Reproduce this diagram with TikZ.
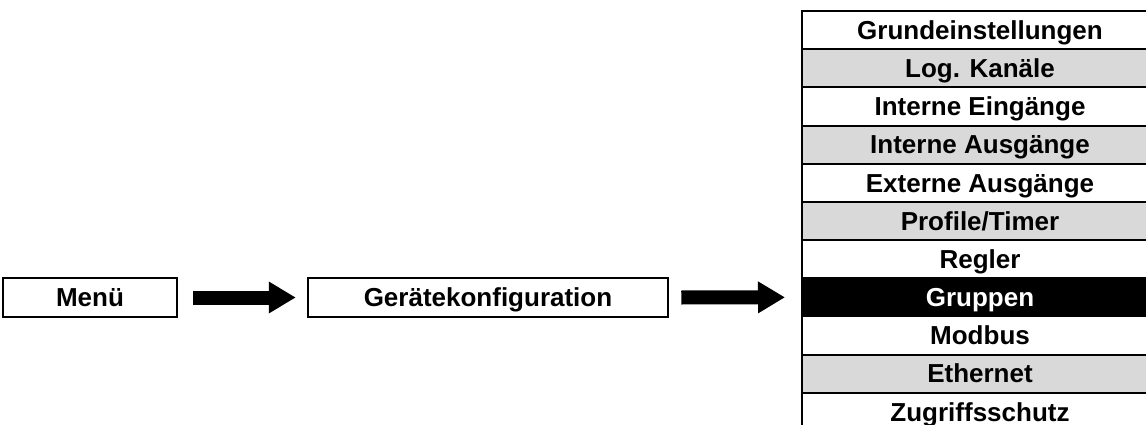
\documentclass[tikz,border=0pt]{standalone}
\usepackage{fontspec}
\setmainfont{Liberation Sans}
\usetikzlibrary{arrows.meta}
\definecolor{rowgray}{RGB}{217,217,217}
\tikzset{
  box/.style={draw, line width=2.5pt, minimum height=39pt, inner sep=0pt, text height=21pt, text depth=2.5pt},
  row/.style={draw, line width=2pt, minimum width=356pt, minimum height=38.18pt, inner sep=0pt, outer sep=0pt, text height=21pt, text depth=2.5pt},
  grayrow/.style={row, fill=rowgray},
  selrow/.style={row, fill=black, text=white},
  bigarrow/.style={line width=14pt, -{Triangle[length=27pt, width=30pt]}}
}
\begin{document}
\begin{tikzpicture}[x=1pt, y=-1pt, font=\fontsize{26}{30}\selectfont\bfseries]
\path[use as bounding box] (0,0) rectangle (1146,425);
\clip (0,0) rectangle (1146,425);
\node[box, minimum width=174pt] (menu) at (90,297.5) {Menü};
\node[box, minimum width=360pt] (geraet) at (488,297.5) {Gerätekonfiguration};
\node[row]     (r1)  at (980, 30.09) {Grundeinstellungen};
\node[grayrow] (r2)  at (980, 68.27) {Log. Kanäle};
\node[row]     (r3)  at (980,106.45) {Interne Eingänge};
\node[grayrow] (r4)  at (980,144.63) {Interne Ausgänge};
\node[row]     (r5)  at (980,182.81) {Externe Ausgänge};
\node[grayrow] (r6)  at (980,220.99) {Profile/Timer};
\node[row]     (r7)  at (980,259.17) {Regler};
\node[selrow]  (r8)  at (980,297.35) {Gruppen};
\node[row]     (r9)  at (980,335.53) {Modbus};
\node[grayrow] (r10) at (980,373.71) {Ethernet};
\node[row]     (r11) at (980,411.89) {Zugriffsschutz};
\draw[bigarrow] ([xshift=15pt]menu.east) -- ([xshift=-11pt]geraet.west);
\draw[bigarrow] ([xshift=12pt]geraet.east) -- ([xshift=-17pt]r8.west);
\end{tikzpicture}
\end{document}
